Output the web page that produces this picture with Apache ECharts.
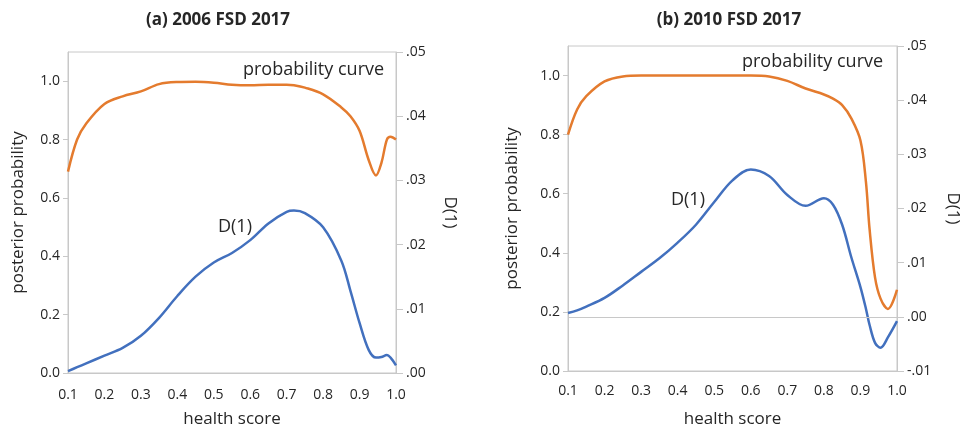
<!DOCTYPE html>
<html><head><meta charset="utf-8">
<script src="https://cdn.jsdelivr.net/npm/echarts@6/dist/echarts.min.js"></script>
<style>html,body{margin:0;padding:0;background:#fff}#c{width:965px;height:433px}</style>
</head><body><div id="c"></div>
<script>
// Panel (a) 2006 FSD 2017
const xA = [0.1,0.125,0.15,0.2,0.25,0.3,0.35,0.4,0.45,0.5,0.55,0.6,0.65,0.7,0.72,0.75,0.8,0.85,0.875,0.9,0.925,0.945,0.96,0.975,0.985,1.0];
const probA = [0.69,0.80,0.855,0.922,0.948,0.965,0.99,0.997,0.998,0.995,0.988,0.986,0.988,0.988,0.986,0.978,0.955,0.91,0.88,0.83,0.73,0.677,0.72,0.80,0.81,0.80];
const dA = [0.0003,0.0009,0.0015,0.0027,0.0039,0.0058,0.0086,0.012,0.015,0.0172,0.0187,0.0207,0.0233,0.0251,0.0253,0.0249,0.0227,0.0175,0.0128,0.0078,0.0036,0.0024,0.0025,0.0028,0.0024,0.0012];
// Panel (b) 2010 FSD 2017
const xB = [0.1,0.125,0.15,0.2,0.25,0.3,0.35,0.4,0.45,0.5,0.55,0.6,0.65,0.7,0.75,0.8,0.825,0.85,0.875,0.9,0.915,0.925,0.94,0.955,0.975,1.0];
const probB = [0.80,0.885,0.93,0.98,0.997,1.0,1.0,1.0,1.0,1.0,1.0,1.0,0.997,0.982,0.956,0.936,0.922,0.90,0.855,0.78,0.64,0.48,0.316,0.245,0.21,0.275];
const dB = [0.0007,0.0012,0.0019,0.0035,0.0058,0.0083,0.0108,0.0137,0.017,0.0212,0.0252,0.0272,0.026,0.0225,0.0205,0.0219,0.0207,0.017,0.011,0.0055,0.0015,-0.0015,-0.0048,-0.0057,-0.0038,-0.0008];

const titles = ['(a) 2006 FSD 2017', '(b) 2010 FSD 2017'];
const xTicks = [0.1,0.2,0.3,0.4,0.5,0.6,0.7,0.8,0.9,1.0];
const probTicks = [0,0.2,0.4,0.6,0.8,1.0];
const xName = 'health score';
const probName = 'posterior probability';
const dName = 'D(1)';
const curveLabels = ['probability curve', 'D(1)'];

const FONT = 'Open Sans';
const TXT = '#262626';
const AX = '#c8c8c8';
const ORANGE = '#E47B2E';
const BLUE = '#4270BE';

const pairs = (xs, ys) => xs.map((x, i) => [x, ys[i]]);
const dFmt = v => { let s = Math.abs(v).toFixed(2).replace(/^0/, ''); return (v < -1e-9 ? '-' : '') + s; };

function xAxis(g) {
  return {
    type: 'value', gridIndex: g, min: 0.1, max: 1.0, interval: 0.1,
    name: xName, nameLocation: 'middle', nameGap: g === 0 ? 38 : 40,
    nameTextStyle: { fontFamily: FONT, fontSize: 17, color: TXT },
    axisLine: { show: true, onZero: false, lineStyle: { color: AX, width: 1 } },
    axisTick: { show: false },
    splitLine: { show: false },
    axisLabel: { fontFamily: FONT, fontSize: 14, color: TXT, margin: g === 0 ? 15 : 13,
      formatter: v => v.toFixed(1) }
  };
}
function probAxis(g, gap) {
  return {
    type: 'value', gridIndex: g, position: 'left', min: 0, max: 1.1,
    name: probName, nameLocation: 'middle', nameGap: gap,
    nameTextStyle: { fontFamily: FONT, fontSize: 17, color: TXT },
    axisLine: { show: true, lineStyle: { color: AX, width: 1 } },
    axisTick: { show: true, length: 5, customValues: probTicks, lineStyle: { color: AX } },
    splitLine: { show: false },
    axisLabel: { fontFamily: FONT, fontSize: 14, color: TXT, margin: 8, customValues: probTicks,
      formatter: v => v.toFixed(1) }
  };
}
function dAxis(g, min, gap) {
  return {
    type: 'value', gridIndex: g, position: 'right', min: min, max: 0.05, interval: 0.01,
    name: dName, nameLocation: 'middle', nameGap: gap, nameRotate: -90,
    nameTextStyle: { fontFamily: FONT, fontSize: 17, color: TXT },
    axisLine: { show: true, lineStyle: { color: AX, width: 1 } },
    axisTick: { show: true, length: 7, lineStyle: { color: AX } },
    splitLine: { show: false },
    axisLabel: { fontFamily: FONT, fontSize: 14, color: TXT, margin: 10, formatter: dFmt }
  };
}
function line(xi, yi, data, color, extra) {
  return Object.assign({
    type: 'line', xAxisIndex: xi, yAxisIndex: yi, data: data, smooth: 0.35,
    showSymbol: false, symbol: 'none', silent: true,
    lineStyle: { color: color, width: 2.5 }
  }, extra || {});
}

const chart = echarts.init(document.getElementById('c'), null, { renderer: 'canvas' });
chart.setOption({
  animation: false,
  backgroundColor: '#fff',
  title: [
    { text: titles[0], left: 213, top: 7, textAlign: 'center',
      textStyle: { fontFamily: FONT, fontSize: 17, fontWeight: 'bold', color: TXT } },
    { text: titles[1], left: 724, top: 7, textAlign: 'center',
      textStyle: { fontFamily: FONT, fontSize: 17, fontWeight: 'bold', color: TXT } }
  ],
  grid: [
    { left: 68, right: 569, top: 52, bottom: 55, show: true, borderColor: AX, borderWidth: 1, containLabel: false },
    { left: 568, right: 68, top: 46, bottom: 59, show: true, borderColor: AX, borderWidth: 1, containLabel: false }
  ],
  xAxis: [xAxis(0), xAxis(1)],
  yAxis: [probAxis(0, 41), dAxis(0, 0, 45), probAxis(1, 47), dAxis(1, -0.01, 47)],
  graphic: [
    { type: 'text', left: 243, top: 61, style: { text: curveLabels[0], font: '18px "Open Sans"', fill: TXT } },
    { type: 'text', left: 218, top: 218, style: { text: curveLabels[1], font: '18px "Open Sans"', fill: TXT } },
    { type: 'text', left: 742, top: 53, style: { text: curveLabels[0], font: '18px "Open Sans"', fill: TXT } },
    { type: 'text', left: 671, top: 191, style: { text: curveLabels[1], font: '18px "Open Sans"', fill: TXT } }
  ],
  series: [
    line(0, 0, pairs(xA, probA), ORANGE),
    line(0, 1, pairs(xA, dA), BLUE),
    line(1, 2, pairs(xB, probB), ORANGE),
    line(1, 3, pairs(xB, dB), BLUE, {
      markLine: { silent: true, symbol: 'none', label: { show: false },
        lineStyle: { color: AX, width: 1, type: 'solid' }, data: [{ yAxis: 0 }] }
    })
  ]
});
</script></body></html>
